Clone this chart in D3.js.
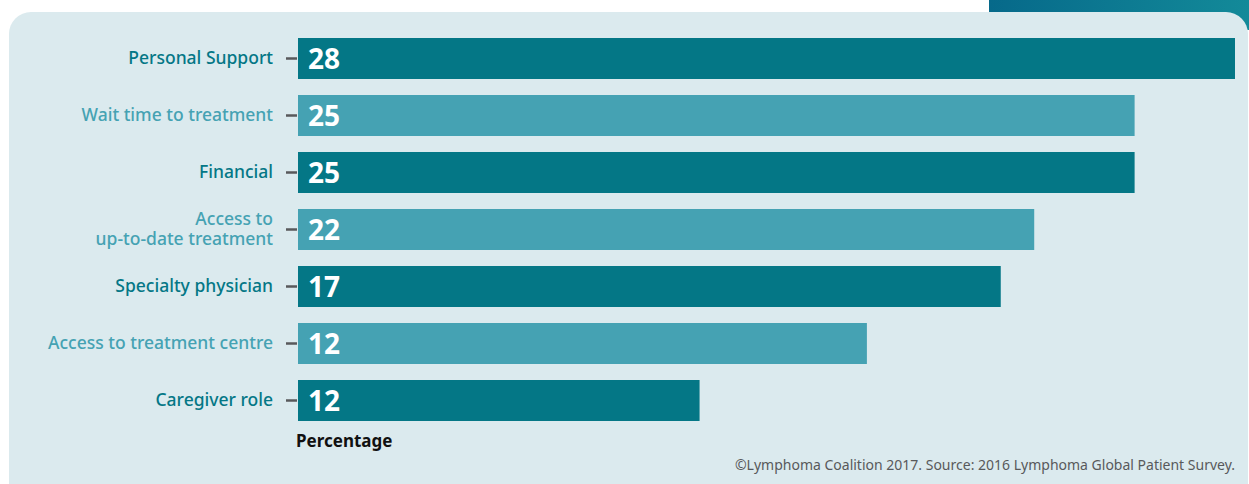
<!DOCTYPE html>
<html>
<head>
<meta charset="utf-8">
<script src="https://cdn.jsdelivr.net/npm/d3@7"></script>
<style>
  body { margin: 0; background: #fff; }
  svg { display: block; font-family: "Noto Sans", sans-serif; }
</style>
</head>
<body>
<div id="chart"></div>
<script>
// chart data
const categories = [
  "Personal Support",
  "Wait time to treatment",
  "Financial",
  "Access to\nup-to-date treatment",
  "Specialty physician",
  "Access to treatment centre",
  "Caregiver role"
];
// bar lengths as drawn in the picture
const barValues = [28, 25, 25, 22, 21, 17, 12];
// numbers printed on the bars
const valueLabels = [28, 25, 25, 22, 17, 12, 12];

const width = 1249;
const height = 484;
const margin = {left: 298, right: 14, top: 38, bottom: 64};

const dark = "#047786";
const light = "#45a2b3";

const svg = d3.select("#chart")
  .append("svg")
  .attr("width", width)
  .attr("height", height);

// background strip at top right
const grad = svg.append("defs").append("linearGradient")
  .attr("id", "topgrad");
grad.append("stop").attr("offset", "0%").attr("stop-color", "#06698a");
grad.append("stop").attr("offset", "100%").attr("stop-color", "#138a99");
svg.append("rect")
  .attr("x", 989).attr("y", 0)
  .attr("width", 260).attr("height", 30)
  .attr("fill", "url(#topgrad)");

// panel
svg.append("rect")
  .attr("x", 9).attr("y", 12)
  .attr("width", 1239).attr("height", 500)
  .attr("rx", 22)
  .attr("fill", "#dbeaee");

// scales
const x = d3.scaleLinear()
  .domain([0, 28])
  .range([margin.left, width - margin.right]);

const y = d3.scaleBand()
  .domain(d3.range(categories.length))
  .range([margin.top, 421])
  .paddingInner(16 / 57)
  .paddingOuter(0);

// bars
svg.selectAll(".bar")
  .data(barValues)
  .enter()
  .append("rect")
    .attr("class", "bar")
    .attr("x", x(0))
    .attr("y", (d, i) => y(i))
    .attr("width", d => x(d) - x(0))
    .attr("height", y.bandwidth())
    .attr("fill", (d, i) => i % 2 ? light : dark);

// y axis with tick marks
const yAxis = svg.append("g")
  .attr("transform", `translate(${x(0) - 1},0)`)
  .call(d3.axisLeft(y).tickSize(11).tickFormat(""));
yAxis.select(".domain").remove();
yAxis.selectAll(".tick line")
  .attr("stroke", "#58595b")
  .attr("stroke-width", 2.5);

// category labels
svg.selectAll(".cat")
  .data(categories)
  .enter()
  .append("text")
    .attr("class", "cat")
    .attr("text-anchor", "end")
    .attr("font-size", 17.5)
    .attr("fill", (d, i) => i % 2 ? light : dark)
    .attr("font-weight", 500)
    .each(function(d, i) {
      const lines = d.split("\n");
      const cy = y(i) + y.bandwidth() / 2;
      const t = d3.select(this);
      lines.forEach((line, k) => {
        t.append("tspan")
          .attr("x", 273)
          .attr("y", cy + 5 + (k - (lines.length - 1) / 2) * 20)
          .text(line);
      });
    });

// value labels
svg.selectAll(".val")
  .data(valueLabels)
  .enter()
  .append("text")
    .attr("class", "val")
    .attr("x", x(0) + 10)
    .attr("y", (d, i) => y(i) + y.bandwidth() / 2 + 10)
    .attr("font-size", 28)
    .attr("font-weight", 700)
    .attr("fill", "#fff")
    .text(d => d);

// axis title
svg.append("text")
  .attr("x", 296)
  .attr("y", 447)
  .attr("font-size", 17)
  .attr("font-weight", 700)
  .attr("fill", "#111")
  .text("Percentage");

// source
svg.append("text")
  .attr("x", 1235)
  .attr("y", 470)
  .attr("text-anchor", "end")
  .attr("font-size", 14)
  .attr("fill", "#58595b")
  .text("©Lymphoma Coalition 2017. Source: 2016 Lymphoma Global Patient Survey.");
</script>
</body>
</html>
